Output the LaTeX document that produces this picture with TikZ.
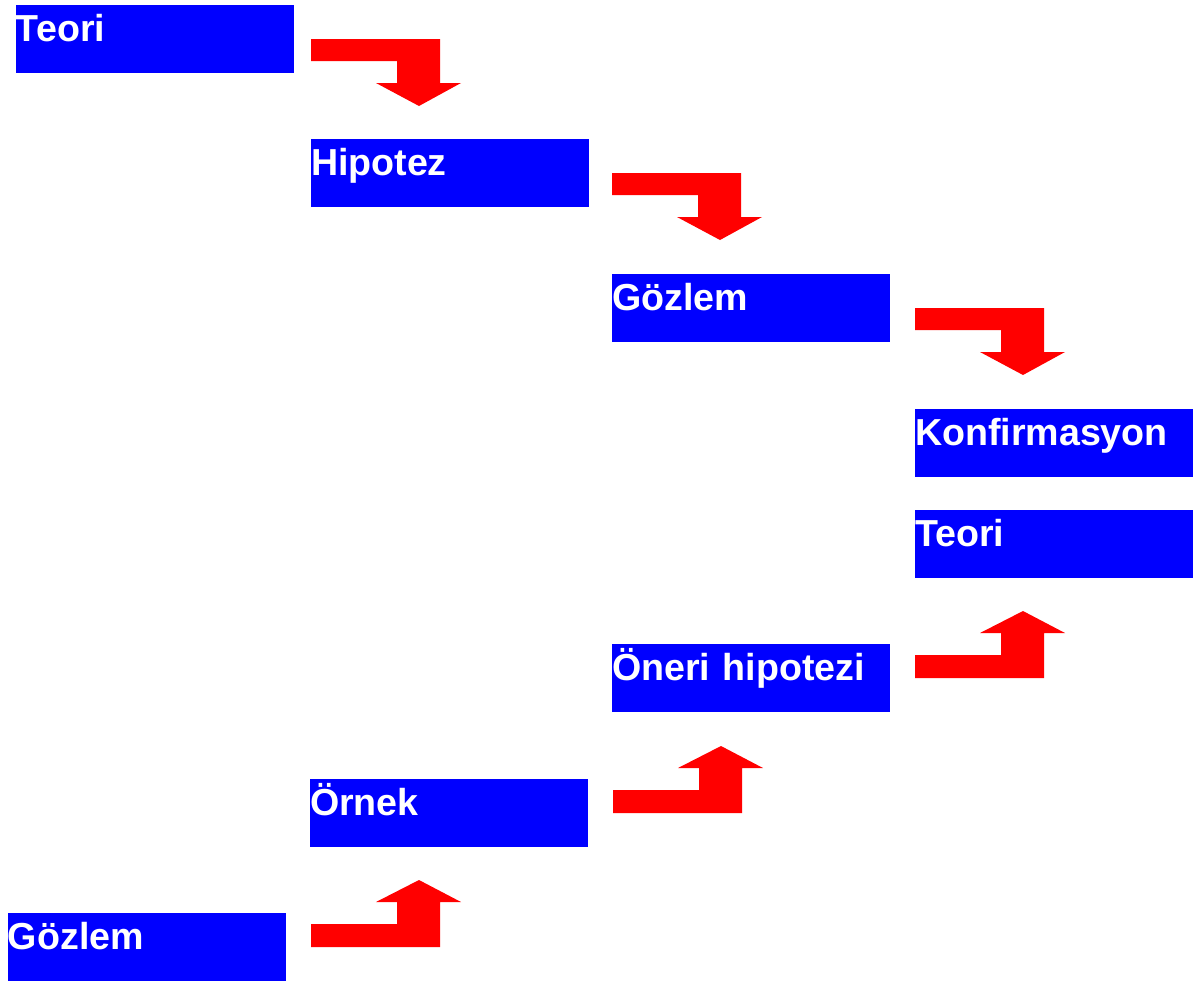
\documentclass[tikz,border=0pt]{standalone}
\usepackage{fontspec}
\setmainfont{Liberation Sans}
\begin{document}
\begin{tikzpicture}[x=1pt,y=-1pt,
  box/.style={fill=blue, text=white, inner sep=0pt, outer sep=0pt, anchor=north west,
    text width=278pt, text height=36pt, text depth=32pt, align=left,
    font=\bfseries\fontsize{37.6}{40}\selectfont},
  downarrow/.pic={\fill[red] (0,0) -- (129,0) -- (129,44) -- (150,44) -- (108,67)
    -- (65,44) -- (86,44) -- (86,22) -- (0,22) -- cycle;},
  uparrow/.pic={\fill[red] (0,0) -- (129,0) -- (129,-45) -- (150,-45) -- (108,-67)
    -- (65,-45) -- (86,-45) -- (86,-23) -- (0,-23) -- cycle;}]
\useasboundingbox (0,0) rectangle (1197,983);

% top-down chain
\node[box] (teoriA) at (16,5)   {Teori};
\node[box] (hip)    at (311,139) {Hipotez};
\node[box] (gozA)   at (612,274) {Gözlem};
\node[box] (konf)   at (915,409) {Konfirmasyon};

% bottom-up chain
\node[box] (teoriB) at (915,510) {Teori};
\node[box] (oneri)  at (612,644) {Öneri hipotezi};
\node[box] (ornek)  at (310,779) {Örnek};
\node[box] (gozB)   at (8,913)   {Gözlem};

% bent block arrows between the steps
\path (hip.north west |- teoriA.north west) ++(0,34) pic {downarrow};
\path (gozA.north west |- hip.north west) ++(0,34) pic {downarrow};
\path (konf.north west |- gozA.north west) ++(0,34) pic {downarrow};

\path (ornek.north west |- gozB.north west) ++(1,34) pic {uparrow};
\path (oneri.north west |- ornek.north west) ++(1,34) pic {uparrow};
\path (teoriB.north west |- oneri.north west) ++(0,34) pic {uparrow};
\end{tikzpicture}
\end{document}
